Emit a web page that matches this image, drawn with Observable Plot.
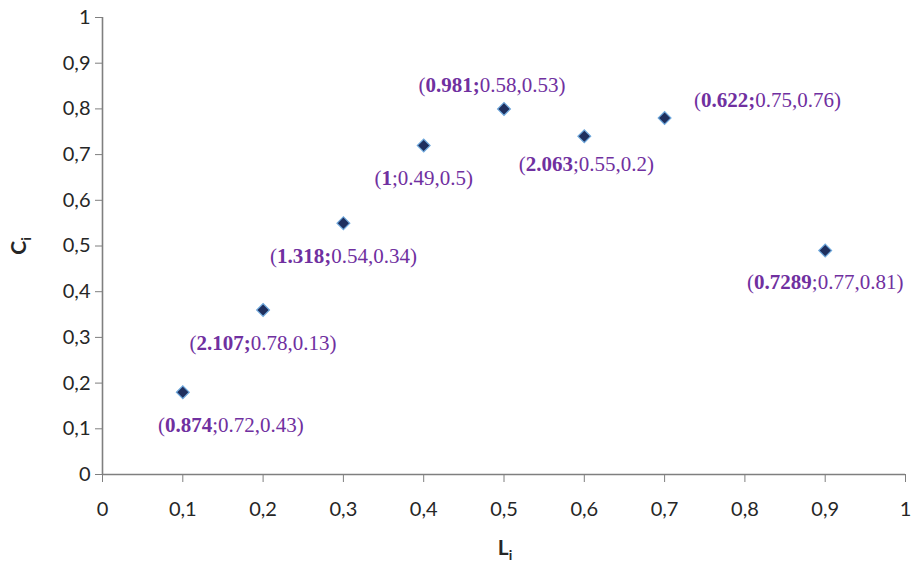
<!DOCTYPE html>
<html>
<head>
<meta charset="utf-8">
<script src="https://cdn.jsdelivr.net/npm/d3@7"></script>
<script src="https://cdn.jsdelivr.net/npm/@observablehq/plot@0.6"></script>
<style>
  html, body { margin: 0; padding: 0; background: #fff; }
  #chart svg { display: block; }
</style>
</head>
<body>
<div id="chart"></div>
<script>
// ---- data ----
const L = [0.1, 0.2, 0.3, 0.4, 0.5, 0.6, 0.7, 0.9];
const C = [0.18, 0.36, 0.55, 0.72, 0.80, 0.74, 0.78, 0.49];
const labelBold = ["0.874", "2.107;", "1.318;", "1", "0.981;", "2.063", "0.622;", "0.7289"];
const labelRest = [";0.72,0.43", "0.78,0.13", "0.54,0.34", ";0.49,0.5", "0.58,0.53", ";0.55,0.2", "0.75,0.76", ";0.77,0.81"];
const tickValues = [0, 0.1, 0.2, 0.3, 0.4, 0.5, 0.6, 0.7, 0.8, 0.9, 1];
const tickLabels = ["0", "0,1", "0,2", "0,3", "0,4", "0,5", "0,6", "0,7", "0,8", "0,9", "1"];

const points = L.map((x, i) => ({x, y: C[i], bold: labelBold[i], rest: labelRest[i]}));

// label placement offsets (layout, px)
const offsets = [[48, 33], [0, 33], [0, 33], [0, 33], [-12, -24], [2, 28], [103, -18], [0, 32]];

const W = 914, H = 572;
const axisColor = "#7f7f7f";
const tickFmt = d => tickLabels[tickValues.findIndex(t => Math.abs(t - d) < 1e-9)];

const labelMarks = points.map((p, i) => Plot.text([p], {
  x: "x", y: "y", text: d => d.bold + "|" + d.rest,
  dx: offsets[i][0], dy: offsets[i][1],
  fill: "#7030A0", fontSize: 21, fontFamily: "Liberation Serif",
  textAnchor: "middle", className: "ptlabel"
}));

const chart = Plot.plot({
  width: W, height: H,
  marginLeft: 102, marginRight: 9, marginTop: 17, marginBottom: 98,
  style: {fontFamily: "Lato, sans-serif", fontSize: "20px", color: "#262626", background: "#fff"},
  x: {domain: [0, 1], label: null},
  y: {domain: [0, 1], label: null},
  marks: [
    Plot.axisX({ticks: tickValues, tickFormat: tickFmt, tickSize: 8, tickPadding: 19, stroke: axisColor, fill: "#262626", label: null}),
    Plot.axisY({ticks: tickValues, tickFormat: tickFmt, tickSize: 7, tickPadding: 5, stroke: axisColor, fill: "#262626", label: null}),
    Plot.ruleX([0], {stroke: axisColor, strokeWidth: 1.6}),
    Plot.ruleY([0], {stroke: axisColor, strokeWidth: 1.6}),
    Plot.dot(points, {x: "x", y: "y", symbol: "square", r: 5.1, rotate: 45,
      fill: "#1F2F5E", stroke: "#6FA8DC", strokeWidth: 1.2}),
    ...labelMarks
  ]
});

const svg = d3.select(chart);
// mixed bold / regular labels
svg.selectAll(".ptlabel text").each(function() {
  const t = d3.select(this);
  const [b, r] = t.text().split("|");
  t.text(null);
  t.append("tspan").text("(");
  t.append("tspan").attr("font-weight", "bold").text(b);
  t.append("tspan").text(r + ")");
});

// axis titles with subscripts
const yT = svg.append("text")
  .attr("transform", "translate(26,246) rotate(-90)")
  .attr("text-anchor", "middle")
  .attr("font-family", "Lato, sans-serif").attr("font-size", 21).attr("font-weight", "bold").attr("fill", "#262626");
yT.append("tspan").text("C");
yT.append("tspan").attr("font-size", 14).attr("dy", 5).text("i");

const xT = svg.append("text")
  .attr("x", 505).attr("y", 555)
  .attr("text-anchor", "middle")
  .attr("font-family", "Lato, sans-serif").attr("font-size", 21).attr("font-weight", "bold").attr("fill", "#262626");
xT.append("tspan").text("L");
xT.append("tspan").attr("font-size", 14).attr("dy", 5).text("i");

document.getElementById("chart").appendChild(chart);
</script>
</body>
</html>
